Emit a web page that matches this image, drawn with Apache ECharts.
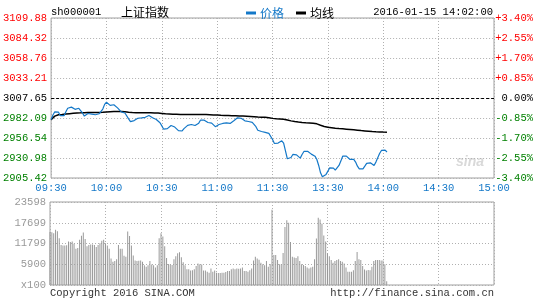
<!DOCTYPE html>
<html><head><meta charset="utf-8">
<script src="https://cdn.jsdelivr.net/npm/echarts/dist/echarts.min.js"></script>
<style>html,body{margin:0;padding:0;background:#fff}#c{width:545px;height:300px}</style>
</head><body><div id="c"></div>
<script>
const code = 'sh000001';
const stockName = '上证指数';
const stamp = '2016-01-15 14:02:00';
const prevClose = 3007.65;
const timeLabels = ['09:30','10:00','10:30','11:00','11:30','13:30','14:00','14:30','15:00'];
const pctTicks = [-3.40,-2.55,-1.70,-0.85,0,0.85,1.70,2.55,3.40];
const priceTickLabels = ['2905.42','2930.98','2956.54','2982.09','3007.65','3033.21','3058.76','3084.32','3109.88'];
const pctTickLabels = ['-3.40%','-2.55%','-1.70%','-0.85%','0.00%','+0.85%','+1.70%','+2.55%','+3.40%'];
const volTickValues = [0,5899.5,11799,17698.5,23598];
const volTickLabels = ['x100','5900','11799','17699','23598'];

const price = [
2980.0,2986.0,2990.0,2991.0,2989.5,2985.0,2982.5,2985.0,2990.0,2994.5,
2996.4,2996.0,2994.5,2993.2,2994.0,2994.5,2992.0,2988.5,2984.5,2986.0,
2987.8,2987.3,2987.0,2988.5,2986.2,2986.8,2987.5,2990.0,2993.5,2999.5,
3002.3,3000.5,2998.2,2998.9,2999.0,2997.5,2995.0,2992.5,2990.0,2989.0,
2988.5,2986.6,2981.0,2977.5,2977.0,2978.8,2981.0,2981.8,2982.0,2982.3,
2982.3,2983.0,2984.4,2985.2,2984.5,2982.5,2981.0,2980.2,2979.0,2976.0,
2972.0,2967.8,2966.5,2968.5,2970.5,2972.5,2972.0,2970.5,2968.0,2966.0,
2964.3,2965.5,2968.5,2971.0,2972.6,2973.2,2973.8,2973.5,2972.5,2973.2,
2975.5,2979.5,2980.0,2979.3,2978.0,2976.3,2975.9,2975.5,2973.0,2971.0,
2971.5,2973.8,2975.0,2975.1,2975.5,2975.9,2975.5,2975.2,2976.8,2978.5,
2980.5,2982.3,2982.3,2981.8,2980.5,2978.5,2977.8,2977.6,2977.5,2976.5,
2974.5,2971.0,2966.5,2965.5,2964.8,2964.3,2963.8,2963.1,2962.5,2961.0,
2954.6,
2949.5,2949.5,2950.0,2952.1,2952.9,2950.0,2940.0,2930.0,2928.2,2931.6,
2935.5,2936.3,2935.0,2932.5,2930.8,2935.5,2939.3,2940.1,2939.5,2938.4,
2935.9,2935.0,2933.3,2929.1,2921.4,2912.0,2906.9,2907.5,2910.0,2914.2,
2918.4,2920.5,2918.0,2915.4,2917.0,2921.4,2927.0,2933.3,2935.0,2933.3,
2931.2,2929.1,2929.1,2929.1,2925.7,2920.5,2917.1,2915.4,2917.1,2920.5,
2924.0,2925.7,2924.8,2922.7,2921.4,2925.7,2931.2,2936.7,2940.6,2942.7,
2941.0,2938.6
];

const avgPrice = [
2980.0,2982.0,2984.5,2985.7,2986.2,2986.5,2986.6,2986.8,2987.1,2987.4,
2987.6,2987.8,2988.1,2988.4,2988.6,2988.7,2988.7,2988.8,2988.9,2989.0,
2989.0,2989.0,2989.0,2989.1,2989.1,2989.1,2989.1,2989.2,2989.3,2989.6,
2989.9,2990.1,2990.2,2990.3,2990.3,2990.4,2990.4,2990.4,2990.3,2990.2,
2990.0,2989.8,2989.5,2989.3,2989.1,2989.0,2988.9,2988.8,2988.8,2988.7,
2988.7,2988.7,2988.7,2988.7,2988.7,2988.6,2988.6,2988.5,2988.4,2988.2,
2987.9,2987.6,2987.4,2987.3,2987.2,2987.1,2987.0,2986.9,2986.8,2986.7,
2986.6,2986.6,2986.6,2986.6,2986.6,2986.6,2986.6,2986.5,2986.5,2986.5,
2986.5,2986.5,2986.4,2986.4,2986.4,2986.3,2986.2,2986.1,2986.0,2985.9,
2985.8,2985.6,2985.5,2985.4,2985.3,2985.3,2985.2,2985.1,2985.0,2985.0,
2984.9,2984.8,2984.7,2984.6,2984.5,2984.4,2984.3,2984.2,2984.1,2984.0,
2983.8,2983.6,2983.4,2983.3,2983.2,2983.1,2982.9,2982.7,2982.5,2982.3,
2981.6,
2981.2,2981.0,2980.9,2980.8,2980.7,2980.5,2980.2,2979.6,2979.0,2978.4,
2977.9,2977.5,2977.2,2976.9,2976.6,2976.4,2976.2,2976.0,2975.9,2975.8,
2975.6,2975.4,2975.2,2974.6,2973.8,2972.9,2972.0,2971.3,2970.8,2970.3,
2970.0,2969.7,2969.4,2969.1,2968.8,2968.6,2968.4,2968.2,2968.0,2967.8,
2967.6,2967.4,2967.2,2967.0,2966.8,2966.5,2966.2,2966.0,2965.8,2965.6,
2965.4,2965.2,2965.0,2964.8,2964.6,2964.5,2964.4,2964.3,2964.2,2964.1,
2964.0,2964.0
];

const volume = [
15100,15000,14700,15700,15300,13300,11400,11200,11200,11300,
12400,12200,12400,11700,10300,10500,12900,14000,14900,13100,
11000,11400,11500,11500,11400,10800,11400,11900,12600,12900,
11900,11200,10300,7500,6600,6800,7300,11400,10300,10300,
8300,8000,15200,13900,11200,8400,7000,6800,6900,7000,
6600,5600,5200,5600,6800,5800,5600,5000,5600,13300,
14700,13800,11000,7700,6000,5800,5700,7300,8200,9000,
9300,7900,6500,5600,4500,4500,4100,4200,4500,5400,
6100,5900,5800,4100,4100,3800,3500,4700,3800,4100,
3500,3400,3400,3500,3500,3700,4000,4000,4500,4700,
4500,4700,4600,4700,5000,4000,4000,3800,4200,4700,
7000,8000,7500,7200,6300,5900,5600,6800,5200,6000,
21400,
8500,8500,7100,5900,5900,9100,16500,18400,17700,12200,
8000,7800,7700,8200,6800,5900,5700,5400,5000,4700,
5000,5200,7300,13200,19100,18600,17400,14100,12400,9000,
8200,7100,6300,6800,7100,7300,6800,6600,6100,5000,
3800,3800,3800,4200,6800,9400,7300,7100,5400,4400,
4100,4300,4200,5200,6800,7100,7100,7100,7000,7000,
5900,1100
];

// minute categories: 09:30..11:30 then 13:01..15:00
const minutes = [];
function hm(t){const h=Math.floor(t/60),m=t%60;return (h<10?'0':'')+h+':'+(m<10?'0':'')+m;}
for (let i=0;i<=120;i++) minutes.push(hm(570+i));
for (let i=1;i<=120;i++) minutes.push(hm(780+i));

const pct = price.map(p => (p/prevClose-1)*100);
const avgPct = avgPrice.map(p => (p/prevClose-1)*100);

function nearest(arr, v){let b=0;for(let i=1;i<arr.length;i++){if(Math.abs(arr[i]-v)<Math.abs(arr[b]-v))b=i;}return b;}
function sideColor(v){return v>0.001?'#ff0000':(v<-0.001?'#008000':'#000000');}

const MONO = 'Liberation Mono, DejaVu Sans Mono, monospace';
const CJK = 'Noto Sans CJK SC, sans-serif';
const BLUE = '#1478c8';
const GRIDC = '#b0b0b0';
const DOT = [1,2];
const every30 = function(idx){return idx % 30 === 0;};

const chart = echarts.init(document.getElementById('c'), null, {renderer:'canvas'});
chart.setOption({
  animation:false,
  backgroundColor:'#ffffff',
  grid:[
    {left:50, right:51, top:18, height:160, show:true, borderColor:'#a0a0a0', borderWidth:1},
    {left:50, right:51, top:202, height:83, show:true, borderColor:'#a0a0a0', borderWidth:1}
  ],
  legend:{
    left:241, top:2, icon:'rect', itemWidth:10, itemHeight:3, itemGap:12,
    selectedMode:false,
    textStyle:{fontFamily:CJK, fontSize:12, padding:[0,0,0,-1]},
    data:[{name:'价格', textStyle:{color:BLUE}},{name:'均线', textStyle:{color:'#000'}}]
  },
  xAxis:[
    {type:'category', gridIndex:0, data:minutes, boundaryGap:false,
     axisLine:{show:false}, axisTick:{show:false},
     axisLabel:{interval:every30, formatter:function(v,idx){return timeLabels[Math.round(idx/30)];},
       color:BLUE, fontFamily:MONO, fontSize:10.5, margin:5, showMinLabel:true, showMaxLabel:true},
     splitLine:{show:true, interval:every30, lineStyle:{color:GRIDC, type:DOT, width:1}}},
    {type:'category', gridIndex:1, data:minutes, boundaryGap:false,
     axisLine:{show:false}, axisTick:{show:false}, axisLabel:{show:false},
     splitLine:{show:true, interval:every30, lineStyle:{color:GRIDC, type:DOT, width:1}}}
  ],
  yAxis:[
    {type:'value', gridIndex:0, min:-3.4, max:3.4, interval:0.85, scale:false,
     axisLine:{show:false}, axisTick:{show:false},
     axisLabel:{margin:4, fontFamily:MONO, fontSize:10.5,
       formatter:function(v){return priceTickLabels[nearest(pctTicks,v)];},
       color:function(v){return sideColor(v);}},
     splitLine:{show:true, lineStyle:{color:GRIDC, type:DOT, width:1}}},
    {type:'value', gridIndex:0, position:'right', min:-3.4, max:3.4, interval:0.85,
     axisLine:{show:false}, axisTick:{show:false},
     axisLabel:{margin:39, align:'right', fontFamily:MONO, fontSize:10.5,
       formatter:function(v){return pctTickLabels[nearest(pctTicks,v)];},
       color:function(v){return sideColor(v);}},
     splitLine:{show:false}},
    {type:'value', gridIndex:1, min:0, max:23598, interval:5899.5,
     axisLine:{show:false}, axisTick:{show:false},
     axisLabel:{margin:4, fontFamily:MONO, fontSize:10.5, color:'#999999',
       formatter:function(v){return volTickLabels[nearest(volTickValues,v)];}},
     splitLine:{show:true, lineStyle:{color:GRIDC, type:DOT, width:1}}}
  ],
  series:[
    {name:'价格', type:'line', xAxisIndex:0, yAxisIndex:0, data:pct, showSymbol:false, symbol:'none',
     itemStyle:{color:BLUE}, lineStyle:{color:BLUE, width:1.2}, silent:true, z:4,
     markLine:{silent:true, symbol:'none', label:{show:false},
       lineStyle:{color:'#000', type:[3,2], width:1}, data:[{yAxis:0}]}},
    {name:'均线', type:'line', xAxisIndex:0, yAxisIndex:0, data:avgPct, showSymbol:false, symbol:'none',
     itemStyle:{color:'#000'}, lineStyle:{color:'#000', width:1.5}, silent:true, z:3},
    {name:'成交量', type:'bar', xAxisIndex:1, yAxisIndex:2, data:volume, barWidth:1,
     itemStyle:{color:'#999999'}, silent:true}
  ],
  graphic:[
    {type:'text', x:51, y:12, silent:true, style:{text:code, font:'10.5px '+MONO, fill:'#000', verticalAlign:'middle'}},
    {type:'text', x:121, y:12, silent:true, style:{text:stockName, font:'12px '+CJK, fill:'#000', verticalAlign:'middle'}},
    {type:'text', x:493, y:12, silent:true, style:{text:stamp, font:'10.5px '+MONO, fill:'#000', align:'right', verticalAlign:'middle'}},
    {type:'text', x:470, y:162, silent:true, style:{text:'sina', font:'italic bold 14px Liberation Sans, sans-serif', fill:'#d9d9d9', align:'center', verticalAlign:'middle'}},
    {type:'text', x:50, y:293, silent:true, style:{text:'Copyright 2016 SINA.COM', font:'10.5px '+MONO, fill:'#333', verticalAlign:'middle'}},
    {type:'text', x:494, y:293, silent:true, style:{text:'http://finance.sina.com.cn', font:'10.5px '+MONO, fill:'#333', align:'right', verticalAlign:'middle'}}
  ]
});
</script></body></html>
